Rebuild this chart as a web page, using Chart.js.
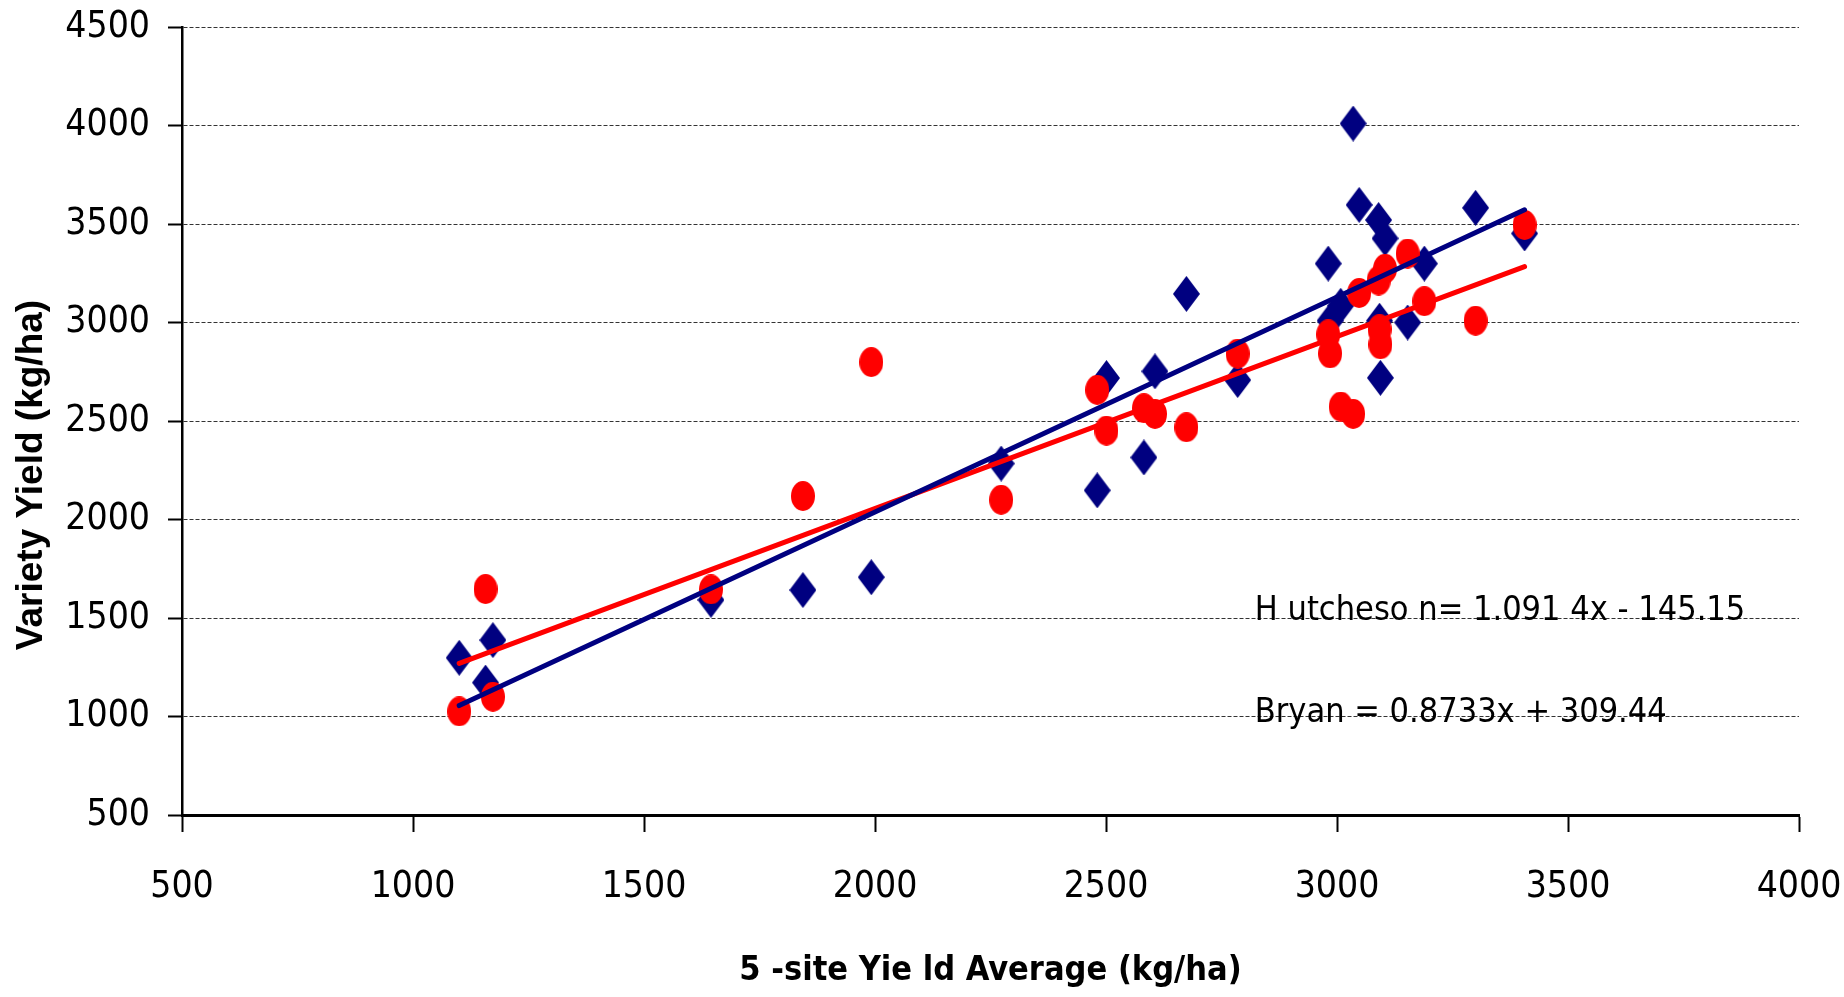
<!DOCTYPE html>
<html lang="en">
<head>
  <meta charset="UTF-8" />
  <title>Variety Yield vs 5-site Yield Average</title>
  <script src="https://cdn.jsdelivr.net/npm/chart.js"></script>
  <style>
    body { margin: 0; background: white; }
    #wrap { width: 1844px; height: 997px; }
  </style>
</head>
<body>
  <div id="wrap"><canvas id="yieldChart" width="1844" height="997"></canvas></div>

  <script>
    // 5-site yield average (kg/ha), shared x for both varieties
    const siteAvg = [1100, 1157, 1173, 1645, 1844, 1992, 2273, 2481, 2501, 2582, 2606, 2674, 2785,
                     2981, 2985, 3008, 3035, 3048, 3090, 3092, 3094, 3104, 3153, 3189, 3300, 3406];
    const hutcheson = [1298, 1172, 1388, 1592, 1642, 1707, 2284, 2148, 2718, 2315, 2752, 3145, 2708,
                       3299, 3009, 3085, 4010, 3597, 3520, 3009, 2719, 3427, 3000, 3299, 3582, 3452];
    const bryan = [1026, 1647, 1100, 1645, 2119, 2799, 2100, 2658, 2451, 2565, 2536, 2468, 2842,
                   2940, 2843, 2573, 2536, 3150, 3213, 2966, 2889, 3273, 3350, 3108, 3009, 3495];

    // trendline coefficients as printed on the chart
    const hutchesonFit = { slope: 1.0914, intercept: -145.15, label: "H utcheso n= 1.091 4x - 145.15" };
    const bryanFit = { slope: 0.8733, intercept: 309.44, label: "Bryan = 0.8733x + 309.44" };

    const xTicks = [500, 1000, 1500, 2000, 2500, 3000, 3500, 4000];
    const yTicks = [500, 1000, 1500, 2000, 2500, 3000, 3500, 4000, 4500];
    const yTitle = "Variety Yield (kg/ha)";
    const xTitle = "5 -site Yie ld Average (kg/ha)";

    const NAVY = "#000080";
    const RED = "#ff0000";
    const narrow = "'Liberation Sans Narrow', 'Arial Narrow', 'DejaVu Sans Condensed', sans-serif";

    function diamond(w, h, color) {
      const c = document.createElement("canvas");
      c.width = w; c.height = h;
      const g = c.getContext("2d");
      g.fillStyle = color;
      g.beginPath();
      g.moveTo(w / 2, 0); g.lineTo(w, h / 2); g.lineTo(w / 2, h); g.lineTo(0, h / 2);
      g.closePath(); g.fill();
      return c;
    }
    function oval(w, h, color) {
      const c = document.createElement("canvas");
      c.width = w; c.height = h;
      const g = c.getContext("2d");
      g.fillStyle = color;
      g.beginPath();
      g.ellipse(w / 2, h / 2, w / 2, h / 2, 0, 0, Math.PI * 2);
      g.fill();
      return c;
    }

    const pts = ys => siteAvg.map((x, i) => ({ x, y: ys[i] }));
    const xMin = Math.min(...siteAvg), xMax = Math.max(...siteAvg);
    const fitLine = f => [xMin, xMax].map(x => ({ x, y: f.slope * x + f.intercept }));

    // equation labels + y title (sits a bit below centre in the original)
    const extras = {
      id: "extras",
      afterDatasetsDraw(chart) {
        const { ctx, chartArea, scales: { x, y } } = chart;
        ctx.save();
        ctx.font = "34px " + narrow;
        ctx.fillStyle = "#000";
        ctx.textBaseline = "alphabetic";
        ctx.fillText(hutchesonFit.label, x.getPixelForValue(2822), y.getPixelForValue(1490));
        ctx.fillText(bryanFit.label, x.getPixelForValue(2822), y.getPixelForValue(972));

        ctx.font = "bold 37px 'Liberation Sans', Arial, sans-serif";
        ctx.textAlign = "center";
        ctx.textBaseline = "middle";
        ctx.translate(32, (chartArea.top + chartArea.bottom) / 2 + 54);
        ctx.rotate(-Math.PI / 2);
        ctx.fillText(yTitle, 0, 0);
        ctx.restore();
      }
    };

    new Chart(document.getElementById("yieldChart"), {
      type: "scatter",
      data: {
        datasets: [
          {
            label: "Hutcheson trend",
            type: "line",
            data: fitLine(hutchesonFit),
            borderColor: NAVY,
            borderWidth: 5,
            borderCapStyle: "round",
            pointRadius: 0,
            order: 0
          },
          {
            label: "Bryan trend",
            type: "line",
            data: fitLine(bryanFit),
            borderColor: RED,
            borderWidth: 5,
            borderCapStyle: "round",
            pointRadius: 0,
            order: 1
          },
          {
            label: "Bryan",
            data: pts(bryan),
            pointStyle: oval(24, 30, RED),
            pointRadius: 12,
            order: 2
          },
          {
            label: "Hutcheson",
            data: pts(hutcheson),
            pointStyle: diamond(27, 36, NAVY),
            pointRadius: 13,
            order: 3
          }
        ]
      },
      options: {
        responsive: false,
        animation: false,
        layout: { padding: { left: 0, right: 45, top: 27, bottom: 0 } },
        plugins: { legend: { display: false }, tooltip: { enabled: false } },
        scales: {
          x: {
            type: "linear",
            min: xTicks[0],
            max: xTicks[xTicks.length - 1],
            afterBuildTicks: s => { s.ticks = xTicks.map(v => ({ value: v })); },
            afterFit: s => { s.height = 182; s.paddingLeft = 0; s.paddingRight = 0; },
            ticks: { color: "#000", padding: 33, font: { family: narrow, size: 37 }, callback: v => String(v) },
            grid: { drawOnChartArea: false, drawTicks: true, tickLength: 17, tickColor: "#000", tickWidth: 2 },
            border: { color: "#000", width: 3 },
            title: {
              display: true,
              text: xTitle,
              color: "#000",
              font: { family: narrow, size: 34, weight: "bold" },
              padding: { top: 0, bottom: 5 }
            }
          },
          y: {
            min: yTicks[0],
            max: yTicks[yTicks.length - 1],
            afterBuildTicks: s => { s.ticks = yTicks.map(v => ({ value: v })); },
            afterFit: s => { s.width = 182; s.paddingTop = 0; s.paddingBottom = 0; },
            ticks: { color: "#000", padding: 18, font: { family: narrow, size: 37 }, callback: v => String(v) },
            grid: { color: "#333", lineWidth: 1, drawTicks: true, tickLength: 14, tickColor: "#000", tickWidth: 2, tickBorderDash: [] },
            border: { color: "#000", width: 2.5, dash: [4, 2] }
          }
        }
      },
      plugins: [extras]
    });
  </script>
</body>
</html>
